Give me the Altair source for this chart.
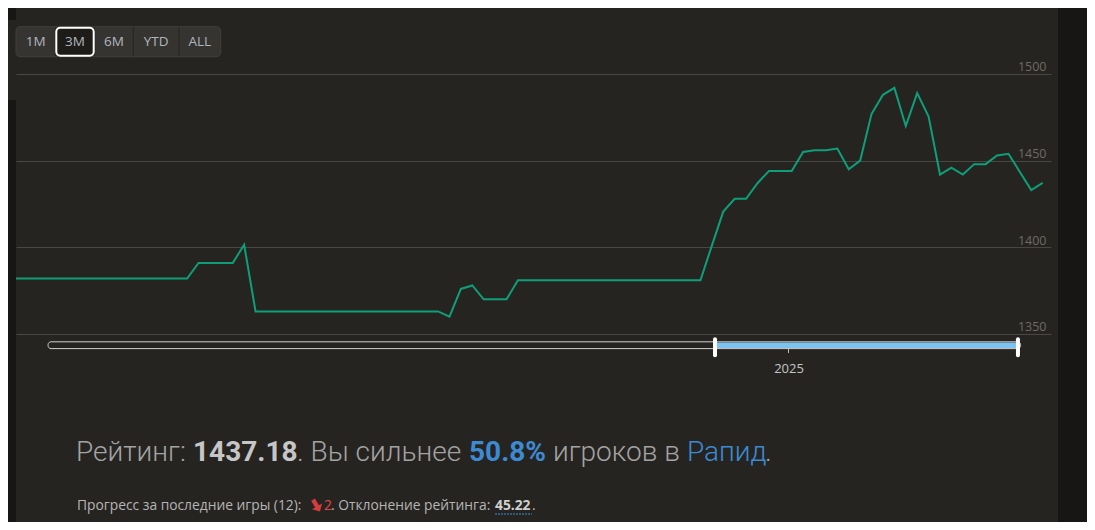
import altair as alt
import pandas as pd

# ---------------- data ----------------
ratings = [
    1382, 1382, 1382, 1382, 1382, 1382, 1382, 1382, 1382, 1382, 1382, 1382, 1382, 1382, 1382, 1382,
    1391, 1391, 1391, 1391,
    1401.5,
    1363, 1363, 1363, 1363, 1363, 1363, 1363, 1363, 1363, 1363, 1363, 1363, 1363, 1363, 1363, 1363, 1363,
    1360, 1376, 1378, 1370, 1370, 1370,
    1381, 1381, 1381, 1381, 1381, 1381, 1381, 1381, 1381, 1381, 1381, 1381, 1381, 1381, 1381, 1381, 1381,
    1401, 1420.6, 1428, 1428, 1437, 1444, 1444, 1444, 1455, 1456, 1456, 1457, 1445, 1450, 1477,
    1488, 1492, 1470, 1489, 1475.5, 1442, 1446, 1442, 1448, 1448, 1453, 1454, 1443.5, 1433, 1437.18,
]
day_index = list(range(len(ratings)))
y_ticks = [1350, 1400, 1450, 1500]
buttons = ["1M", "3M", "6M", "YTD", "ALL"]
selected_button = "3M"
nav_history = ["2024-05-24T07:00:00", "2025-03-11T12:00:00"]
nav_window = ["2024-12-10T00:00:00", "2025-03-10T17:00:00"]

# ---------------- styles ----------------
BG = "#262421"
DARK = "#171614"
LINE = "#0e9f79"
GRID = "#494743"
W, H = 1035, 332.5
BTN_EDGES = [0, 39.3, 78.7, 117.3, 163, 204.7]
ARROW = "M-0.32,-1 L0.32,-1 L0.32,0.15 L0.85,0.15 L0,1 L-0.85,0.15 L-0.32,0.15 Z"

df = pd.DataFrame({"day": day_index, "rating": ratings})


def dummy():
    return pd.DataFrame({"k": [0]})


def box(x0, x1, y0, y1, **kw):
    return alt.Chart(dummy()).mark_rect(**kw).encode(
        x=alt.value(x0), x2=alt.value(x1), y=alt.value(y0), y2=alt.value(y1)
    )


def label(txt, x, y, size, weight, color, font="Roboto", baseline="alphabetic"):
    return alt.Chart(dummy()).mark_text(
        text=txt, align="left", baseline=baseline, font=font,
        fontSize=size, fontWeight=weight, color=color,
    ).encode(x=alt.value(x), y=alt.value(y))


# side strips
strips = [
    box(-8, 0, -8, 4, fill=DARK),
    box(-8, 0, 84, 506, fill=DARK),
    box(1042, 1071, -8, 506, fill=DARK),
]

# range buttons
btn_df = pd.DataFrame({"label": buttons, "x0": BTN_EDGES[:-1], "x1": BTN_EDGES[1:]})
btn_base = alt.Chart(btn_df).transform_calculate(
    cx="(datum.x0 + datum.x1) / 2", sx0="datum.x0 + 1", sx1="datum.x1 - 1"
)
btn_outer = box(0, 204.7, 10.7, 40.7, fill="#363431", stroke="#413f3b", strokeWidth=1, cornerRadius=4)
btn_sep = btn_base.transform_filter("datum.x0 > 0").mark_rule(color="#262421", strokeWidth=1).encode(
    x=alt.X("x0:Q", scale=None, axis=None), y=alt.value(11.2), y2=alt.value(40.2)
)
btn_sel = btn_base.transform_filter(alt.datum.label == selected_button).mark_rect(
    fill="#1d1c19", stroke="#ffffff", strokeWidth=2, cornerRadius=4
).encode(
    x=alt.X("sx0:Q", scale=None, axis=None), x2="sx1:Q", y=alt.value(11.7), y2=alt.value(39.7)
)
btn_txt = btn_base.mark_text(font="Open Sans", fontSize=13.5, color="#b0b6be", baseline="middle").encode(
    x=alt.X("cx:Q", scale=None, axis=None), y=alt.value(26), text="label:N"
)

# main rating line with right-side inner labels
line = alt.Chart(df).mark_line(color=LINE, strokeWidth=2).encode(
    x=alt.X("day:Q", scale=alt.Scale(domain=[0, 90.73], nice=False, zero=False), axis=None),
    y=alt.Y(
        "rating:Q",
        scale=alt.Scale(domain=[1341.63, 1533.46], nice=False, zero=False),
        axis=alt.Axis(
            orient="right", values=y_ticks, format="d", grid=True, gridColor=GRID, gridWidth=1,
            domain=False, ticks=False, labelColor="#6d6b67", labelFont="Open Sans",
            labelFontSize=12.5, labelPadding=-5, labelAlign="right", labelBaseline="bottom",
            title=None,
        ),
    ),
)

# navigator
nav_scale = alt.Scale(
    domain=[
        alt.DateTime(year=2024, month=5, date=14, hours=16, minutes=48),
        alt.DateTime(year=2025, month=3, date=20, hours=14, minutes=24),
    ],
    nice=False,
)
nav_axis = alt.Axis(
    values=[alt.DateTime(year=2025, month=1, date=1)], format="%Y", domain=False, grid=False,
    tickSize=4, tickColor="#bdbdbd", labelColor="#c4c4c4", labelFont="Open Sans",
    labelFontSize=13, labelPadding=10, title=None, orient="bottom",
)
nav_df = pd.DataFrame({"h0": [nav_history[0]], "h1": [nav_history[1]],
                       "w0": [nav_window[0]], "w1": [nav_window[1]]})
hdl_df = pd.DataFrame({"t": nav_window})
nav_outline = alt.Chart(nav_df).mark_rect(fill=BG, stroke="#cfcfcf", strokeWidth=1, cornerRadius=3).encode(
    x=alt.X("h0:T", scale=nav_scale, axis=nav_axis), x2="h1:T", y=alt.value(325.8), y2=alt.value(332.6)
)
nav_sel = alt.Chart(nav_df).mark_rect(fill="#7cc4ef").encode(
    x=alt.X("w0:T", scale=nav_scale, axis=nav_axis), x2="w1:T", y=alt.value(326.4), y2=alt.value(332)
)
nav_hdl = alt.Chart(hdl_df).mark_rule(color="#ffffff", strokeWidth=4, strokeCap="round").encode(
    x=alt.X("t:T", scale=nav_scale, axis=nav_axis), y=alt.value(323.3), y2=alt.value(339.3)
)
nav = alt.layer(nav_outline, nav_sel, nav_hdl)

# bottom texts
GREY = "#a3a3a3"
BOLD = "#c6c6c6"
BLUE = "#3d8ad3"
SMALL = "#b5b5b5"
texts = [
    label("Рейтинг:", 60, 444.7, 28, 300, GREY),
    label("1437.18", 177, 444.7, 28, "bold", BOLD),
    label(". Вы сильнее", 281, 444.7, 28, 300, GREY),
    label("50.8%", 453, 444.7, 28, "bold", BLUE),
    label("игроков в", 537, 444.7, 28, 300, GREY),
    label("Рапид", 671, 444.7, 28, 300, BLUE),
    label(".", 749, 444.7, 28, 300, GREY),
    label("Прогресс за последние игры (12):", 61, 494, 13.8, "normal", SMALL, font="Open Sans"),
    label("2", 308, 494, 13.8, "normal", "#e04646", font="Open Sans"),
    label(". Отклонение рейтинга:", 315, 494, 13.8, "normal", SMALL, font="Open Sans"),
    label("45.22", 479, 494, 13.8, "bold", "#cfcfcf", font="Open Sans"),
    label(".", 516, 494, 13.8, "normal", SMALL, font="Open Sans"),
]
arrow = alt.Chart(dummy()).mark_point(
    shape=ARROW, filled=True, color="#d23c3c", size=190, angle=330, opacity=1
).encode(x=alt.value(300.5), y=alt.value(489.5))
underline = alt.Chart(dummy()).mark_rule(color=BLUE, strokeDash=[2, 1], strokeWidth=1).encode(
    x=alt.value(479), x2=alt.value(516), y=alt.value(498)
)

layers = strips + [btn_outer, btn_sep, btn_sel, btn_txt, line, nav] + texts + [arrow, underline]

chart = alt.layer(*layers).resolve_scale(x="independent").properties(
    width=W,
    height=H,
    background=BG,
    padding={"left": 8, "top": 8, "right": 36, "bottom": 173.5},
    autosize=alt.AutoSizeParams(type="none"),
).configure_view(strokeWidth=0)

chart.save("out.html", embed_options={"renderer": "svg", "actions": False})
